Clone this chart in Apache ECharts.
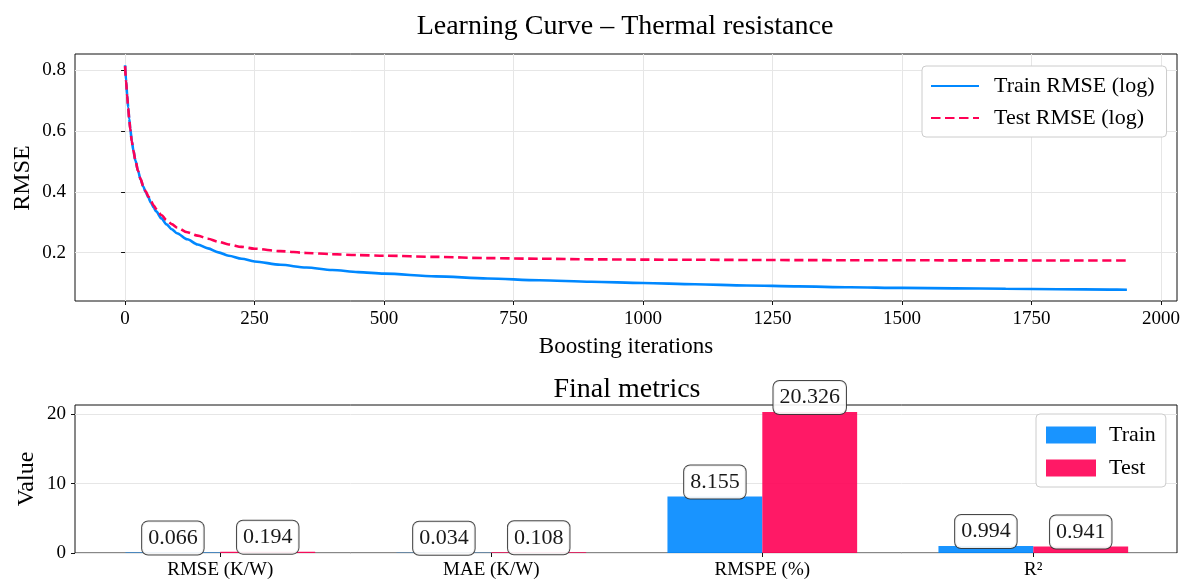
<!DOCTYPE html>
<html>
<head>
<meta charset="utf-8">
<script src="https://cdn.jsdelivr.net/npm/echarts@6/dist/echarts.min.js"></script>
<style>
  html, body { margin: 0; padding: 0; background: #fff; }
  #chart { width: 1183px; height: 580px; }
</style>
</head>
<body>
<div id="chart"></div>
<script>
// Learning curve samples (boosting iteration -> RMSE)
const iterations = [0, 2, 4, 6, 8, 10, 13, 16, 20, 25, 30, 35, 40, 45, 50, 55, 60, 70, 80, 90,
  100, 120, 140, 160, 180, 200, 225, 250, 300, 350, 400, 450, 500, 600, 700, 800, 900, 1000,
  1100, 1200, 1300, 1400, 1500, 1600, 1700, 1800, 1900, 1934];
const trainRmse = [0.817, 0.765, 0.719, 0.678, 0.641, 0.608, 0.567, 0.537, 0.503, 0.469, 0.441,
  0.418, 0.399, 0.381, 0.364, 0.349, 0.336, 0.313, 0.293, 0.277, 0.264, 0.244, 0.227, 0.214,
  0.201, 0.190, 0.180, 0.171, 0.160, 0.151, 0.143, 0.136, 0.131, 0.122, 0.115, 0.109, 0.104,
  0.100, 0.096, 0.092, 0.089, 0.086, 0.084, 0.0825, 0.081, 0.0797, 0.0783, 0.0778];
const testRmse = [0.814, 0.763, 0.717, 0.676, 0.639, 0.606, 0.566, 0.536, 0.503, 0.469, 0.442,
  0.419, 0.401, 0.385, 0.369, 0.356, 0.344, 0.324, 0.307, 0.294, 0.283, 0.267, 0.256, 0.246,
  0.236, 0.227, 0.219, 0.213, 0.205, 0.199, 0.195, 0.192, 0.190, 0.186, 0.182, 0.180, 0.178,
  0.177, 0.1765, 0.176, 0.1755, 0.175, 0.175, 0.1747, 0.1745, 0.1743, 0.174, 0.174];
const iterTicks = [0, 250, 500, 750, 1000, 1250, 1500, 1750, 2000];
const rmseTicks = [0.2, 0.4, 0.6, 0.8];

// Final metrics
const metricNames = ['RMSE (K/W)', 'MAE (K/W)', 'RMSPE (%)', 'R²'];
const trainMetrics = [0.066, 0.034, 8.155, 0.994];
const testMetrics = [0.194, 0.108, 20.326, 0.941];
const valueTicks = [0, 10, 20];

const FONT = '"Liberation Serif", "Times New Roman", serif';
const BLUE = '#0088ff';
const RED = '#ff0055';
const GRID_LINE = '#e6e6e6';
const FRAME = '#111';

// matplotlib-like 5% margins around the data
const allRmse = trainRmse.concat(testRmse);
const rLo = Math.min(...allRmse), rHi = Math.max(...allRmse);
const rPad = 0.05 * (rHi - rLo);
const lastIter = iterations[iterations.length - 1];
const xPad = 0.05 * lastIter;
const barMax = Math.max(...trainMetrics, ...testMetrics) * 1.05;

const pairs = (xs, ys) => xs.map((x, i) => [x, ys[i]]);

const chart = echarts.init(document.getElementById('chart'), null, { renderer: 'canvas' });

const tickStyle = { show: true, inside: false, length: 4, lineStyle: { color: FRAME, width: 1 } };
const labelStyle = { color: '#000', fontFamily: FONT, fontSize: 19 };
const nameStyle = { color: '#000', fontFamily: FONT, fontSize: 24 };

const barLabel = {
  show: true,
  position: 'top',
  distance: -2,
  formatter: p => p.value.toFixed(3),
  color: '#000',
  fontFamily: FONT,
  fontSize: 22,
  lineHeight: 25,
  backgroundColor: '#fff',
  borderColor: '#333',
  borderWidth: 1,
  borderRadius: 6,
  padding: [4, 6, 4, 6]
};

// rotated y-axis titles
const yTitle = (text, x, y) => ({
  type: 'text', x: x, y: y, rotation: Math.PI / 2, z: 10,
  style: { text: text, fill: '#000', fontFamily: FONT, fontSize: 24, align: 'center', verticalAlign: 'middle' }
});

chart.setOption({
  animation: false,
  backgroundColor: '#fff',
  title: [
    {
      text: 'Learning Curve – Thermal resistance',
      left: 620, top: 8, textAlign: 'center',
      textStyle: { color: '#000', fontFamily: FONT, fontSize: 28, fontWeight: 'normal' }
    },
    {
      text: 'Final metrics',
      left: 622, top: 371, textAlign: 'center',
      textStyle: { color: '#000', fontFamily: FONT, fontSize: 28, fontWeight: 'normal' }
    }
  ],
  graphic: [yTitle('RMSE', 23, 178), yTitle('Value', 27, 479)],
  legend: [
    {
      data: ['Train RMSE (log)', 'Test RMSE (log)'],
      orient: 'vertical',
      left: 922, top: 66,
      itemWidth: 48, itemHeight: 12, itemGap: 10,
      padding: [9, 12, 8, 8],
      backgroundColor: '#fff',
      borderColor: '#cccccc', borderWidth: 1, borderRadius: 4,
      itemStyle: { opacity: 0 },
      textStyle: { color: '#000', fontFamily: FONT, fontSize: 22, padding: [0, 0, 0, 10] }
    },
    {
      data: ['Train', 'Test'],
      orient: 'vertical',
      left: 1036, top: 414,
      icon: 'rect',
      itemWidth: 50, itemHeight: 17, itemGap: 11,
      padding: [10, 10, 8, 10],
      backgroundColor: '#fff',
      borderColor: '#cccccc', borderWidth: 1, borderRadius: 4,
      textStyle: { color: '#000', fontFamily: FONT, fontSize: 22, padding: [0, 0, 0, 8] }
    }
  ],
  grid: [
    // learning curve
    { left: 75, top: 54, width: 1102, height: 247, outerBoundsMode: 'none', containLabel: false,
      show: true, borderColor: FRAME, borderWidth: 1, backgroundColor: 'transparent' },
    // metrics frame
    { left: 75, top: 405, width: 1102, height: 148, outerBoundsMode: 'none', containLabel: false,
      show: true, borderColor: FRAME, borderWidth: 1, backgroundColor: 'transparent' },
    // metrics bars (category bands of the metrics frame)
    { left: 84.8, top: 405, width: 1084, height: 148, outerBoundsMode: 'none', containLabel: false }
  ],
  xAxis: [
    {
      gridIndex: 0, type: 'value',
      min: -xPad, max: lastIter + xPad,
      minInterval: 250, maxInterval: 250,
      axisLine: { show: false },
      axisTick: Object.assign({ customValues: iterTicks }, tickStyle),
      axisLabel: Object.assign({ customValues: iterTicks, margin: 9, formatter: v => String(v) }, labelStyle),
      splitLine: { show: true, lineStyle: { color: GRID_LINE, width: 1 } },
      name: 'Boosting iterations', nameLocation: 'middle', nameGap: 34,
      nameTextStyle: Object.assign({}, nameStyle, { fontSize: 23 })
    },
    { gridIndex: 1, type: 'value', min: 0, max: 1, show: false },
    {
      gridIndex: 2, type: 'category', data: metricNames,
      axisLine: { show: false },
      axisTick: Object.assign({ alignWithLabel: true }, tickStyle),
      axisLabel: Object.assign({ margin: 8 }, labelStyle),
      splitLine: { show: false }
    }
  ],
  yAxis: [
    {
      gridIndex: 0, type: 'value',
      min: rLo - rPad, max: rHi + rPad,
      minInterval: 0.2, maxInterval: 0.2,
      axisLine: { show: false },
      axisTick: Object.assign({ customValues: rmseTicks }, tickStyle),
      axisLabel: Object.assign({ customValues: rmseTicks, margin: 9, formatter: v => v.toFixed(1) }, labelStyle),
      splitLine: { show: true, lineStyle: { color: GRID_LINE, width: 1 } }
    },
    {
      gridIndex: 1, type: 'value',
      min: 0, max: barMax, interval: 10,
      axisLine: { show: false },
      axisTick: Object.assign({ customValues: valueTicks }, tickStyle),
      axisLabel: Object.assign({ customValues: valueTicks, margin: 9 }, labelStyle),
      splitLine: { show: true, lineStyle: { color: GRID_LINE, width: 1 } }
    },
    { gridIndex: 2, type: 'value', min: 0, max: barMax, show: false }
  ],
  series: [
    {
      name: 'Train RMSE (log)', type: 'line',
      xAxisIndex: 0, yAxisIndex: 0,
      data: pairs(iterations, trainRmse),
      symbol: 'none', smooth: 0.3, smoothMonotone: 'x',
      lineStyle: { color: BLUE, width: 2.6 },
      itemStyle: { color: BLUE },
      z: 3
    },
    {
      name: 'Test RMSE (log)', type: 'line',
      xAxisIndex: 0, yAxisIndex: 0,
      data: pairs(iterations, testRmse),
      symbol: 'none', smooth: 0.3, smoothMonotone: 'x',
      lineStyle: { color: RED, width: 2.6, type: [9.5, 4.5] },
      itemStyle: { color: RED },
      z: 4
    },
    {
      name: 'Train', type: 'bar',
      xAxisIndex: 2, yAxisIndex: 2,
      data: trainMetrics,
      barWidth: '35%', barGap: '0%',
      itemStyle: { color: BLUE, opacity: 0.9 },
      label: barLabel
    },
    {
      name: 'Test', type: 'bar',
      xAxisIndex: 2, yAxisIndex: 2,
      data: testMetrics,
      barWidth: '35%', barGap: '0%',
      itemStyle: { color: RED, opacity: 0.9 },
      label: barLabel
    }
  ]
});
</script>
</body>
</html>
